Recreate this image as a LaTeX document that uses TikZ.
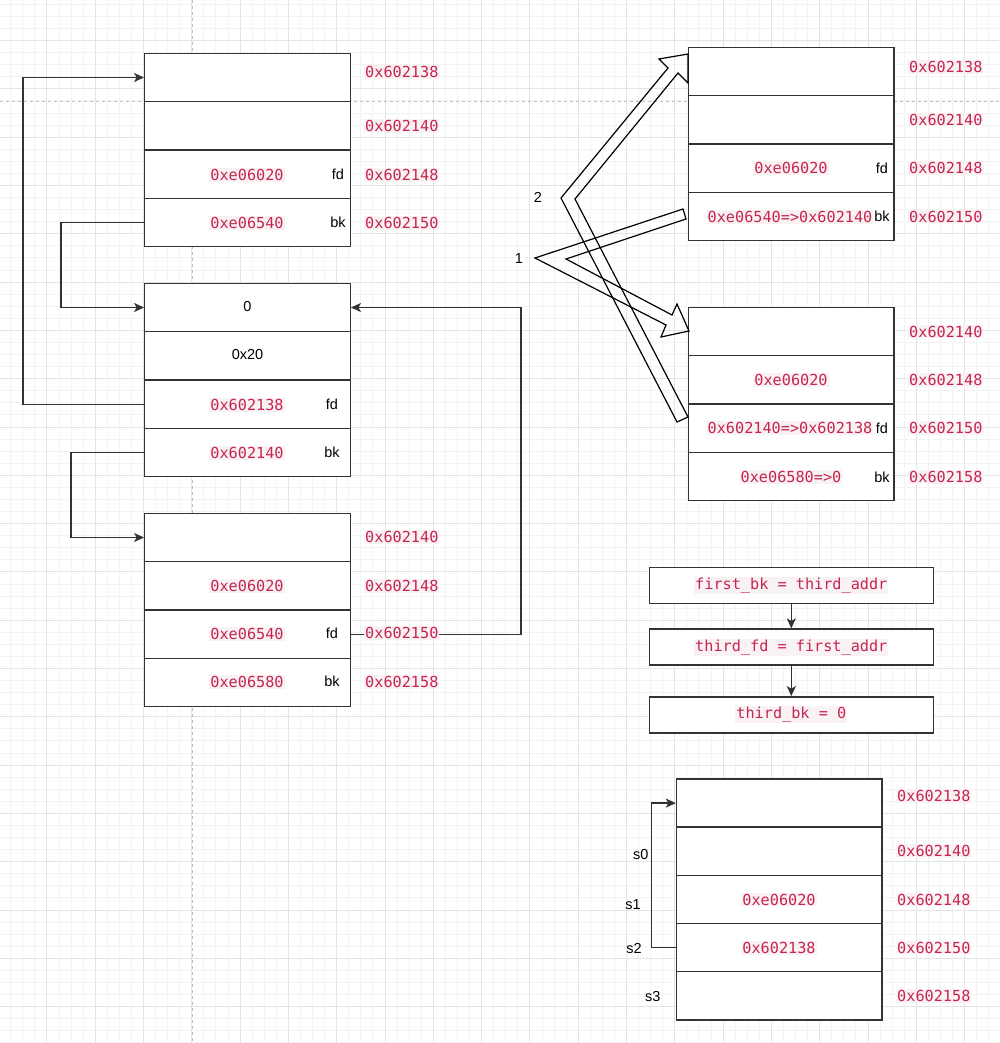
\documentclass[tikz,border=0pt]{standalone}
\usepackage{fontspec}
\setmainfont{Liberation Sans}
\newfontfamily\codefont{DejaVu Sans Mono}
\usepackage{xcolor}
\usetikzlibrary{arrows.meta,positioning}
\definecolor{codered}{HTML}{C7254E}
\definecolor{codebg}{HTML}{F9F2F4}
\definecolor{boxgray}{HTML}{333333}
\definecolor{minorgrid}{HTML}{F3F3F3}
\definecolor{majorgrid}{HTML}{E4E4E4}

\tikzset{
	cell/.style={draw=boxgray, line width=1.4pt, fill=white, minimum width=205.5pt, minimum height=48.3pt, inner sep=0pt},
	code/.style={text=codered, fill=codebg, inner sep=1pt, font=\codefont\fontsize{15.2}{17}\selectfont},
	lab/.style={inner sep=1pt, font=\fontsize{14.5}{16}\selectfont},
	link/.style={draw=boxgray, line width=1.4pt, -{Stealth[length=10pt,width=9pt,inset=2.5pt]}},
	fat/.style={draw=black, line width=1.2pt, line join=miter},
	stepbox/.style={draw=boxgray, line width=1.4pt, fill=white, minimum width=284pt, minimum height=36pt, inner sep=0pt}
}

\begin{document}
\begin{tikzpicture}[x=1pt, y=-1pt]
	\useasboundingbox (0,0) rectangle (999,1043);
	\fill[white] (0,0) rectangle (999,1043);
	% grid
	\foreach \i in {0,...,82}
		\draw[minorgrid, line width=0.8pt] ({10.6+12.075*\i},0) -- ({10.6+12.075*\i},1043);
	\foreach \i in {0,...,86}
		\draw[minorgrid, line width=0.8pt] (0,{4.3+12.075*\i}) -- (999,{4.3+12.075*\i});
	\foreach \i in {0,...,20}
		\draw[majorgrid, line width=0.8pt] ({46.8+48.3*\i},0) -- ({46.8+48.3*\i},1043);
	\foreach \i in {0,...,21}
		\draw[majorgrid, line width=0.8pt] (0,{40.5+48.3*\i}) -- (999,{40.5+48.3*\i});
	\draw[black!25, line width=0.8pt, dash pattern=on 3pt off 3pt] (192,0) -- (192,1043);
	\draw[black!25, line width=0.8pt, dash pattern=on 3pt off 3pt] (0,101) -- (999,101);

	% left column
	\foreach \n/\y in {1/77.5,2/125.8,3/174.2,4/222.5}
		\node[cell] (A\n) at (247.5,\y) {};
	\foreach \n/\y in {1/307.5,2/355.8,3/404.2,4/452.5}
		\node[cell] (B\n) at (247.5,\y) {};
	\foreach \n/\y in {1/537.5,2/585.8,3/634.2,4/682.5}
		\node[cell] (C\n) at (247.5,\y) {};

	% right column
	\foreach \n/\y in {1/71.5,2/119.8,3/168.2,4/216.5}
		\node[cell] (D\n) at (791.3,\y) {};
	\foreach \n/\y in {1/331.5,2/379.8,3/428.2,4/476.5}
		\node[cell] (E\n) at (791.3,\y) {};
	\foreach \n/\y in {1/803.1,2/851.3,3/899.5,4/947.7,5/995.9}
		\node[cell] (F\n) at (779.3,\y) {};

	% links
	\draw[link] (B3.west) -- ++(-121,0) |- (A1.west);
	\draw[link] (A4.west) -- ++(-83,0) |- (B1.west);
	\draw[link] (B4.west) -- ++(-73,0) |- (C1.west);
	\draw[link] (C3.east) -- ++(170,0) |- (B1.east);
	\draw[link] (F4.west) -- ++(-24.4,0) |- (F1.west);

	% cell values
	\node[code] (vA3) at (247,175) {0xe06020};
	\node[code] (vA4) at (247,223) {0xe06540};
	\node[lab] (vB1) at (247.5,307) {0};
	\node[lab] (vB2) at (247.5,355) {0x20};
	\node[code] (vB3) at (247,405) {0x602138};
	\node[code] (vB4) at (247,453) {0x602140};
	\node[code] (vC2) at (247,586) {0xe06020};
	\node[code] (vC3) at (247,634) {0xe06540};
	\node[code] (vC4) at (247,682) {0xe06580};
	\node[code] (vD3) at (791,168) {0xe06020};
	\node[code] (vD4) at (790,217) {0xe06540=>0x602140};
	\node[code] (vE2) at (791,380) {0xe06020};
	\node[code] (vE3) at (790,428) {0x602140=>0x602138};
	\node[code] (vE4) at (791,477) {0xe06580=>0};
	\node[code] (vF3) at (779,899.5) {0xe06020};
	\node[code] (vF4) at (779,948) {0x602138};

	\node[lab] (tA3) at (338,174) {fd};
	\node[lab] (tA4) at (338,222) {bk};
	\node[lab] (tB3) at (332,404) {fd};
	\node[lab] (tB4) at (332,452) {bk};
	\node[lab] (tC3) at (332,633) {fd};
	\node[lab] (tC4) at (332,681) {bk};
	\node[lab] (tD3) at (882,168) {fd};
	\node[lab] (tD4) at (882,216) {bk};
	\node[lab] (tE3) at (882,428) {fd};
	\node[lab] (tE4) at (882,477) {bk};

	% addresses
	\foreach \y/\t [count=\i] in {72/0x602138,126/0x602140,175/0x602148,223/0x602150}
		\node[code, anchor=west] (adA\i) at (364,\y) {\t};
	\foreach \y/\t [count=\i] in {537/0x602140,586/0x602148,633/0x602150,682/0x602158}
		\node[code, anchor=west] (adC\i) at (364,\y) {\t};
	\foreach \y/\t [count=\i] in {67/0x602138,119.5/0x602140,168/0x602148,216.5/0x602150}
		\node[code, anchor=west] (adD\i) at (908,\y) {\t};
	\foreach \y/\t [count=\i] in {331.5/0x602140,380/0x602148,428/0x602150,477/0x602158}
		\node[code, anchor=west] (adE\i) at (908,\y) {\t};
	\foreach \y/\t [count=\i] in {796/0x602138,851/0x602140,899.5/0x602148,947.5/0x602150,996/0x602158}
		\node[code, anchor=west] (adF\i) at (896,\y) {\t};

	% hollow arrows
	\draw[fat] (683,209) -- (535,258) -- (666,325) -- (661,337) -- (689,331)
		-- (677,304) -- (672,315) -- (566,259) -- (686,219) -- cycle;
	\draw[fat] (677,422) -- (561,198) -- (668,68) -- (659,59) -- (688,54)
		-- (688,83) -- (678,73) -- (575,199) -- (688,417) -- cycle;
	\node[lab] (n1) at (519,259) {1};
	\node[lab] (n2) at (538,197) {2};

	% steps
	\node[stepbox] (q1) at (791.3,585.3) {};
	\node[stepbox, below=24.4pt of q1] (q2) {};
	\node[stepbox, below=30.3pt of q2] (q3) {};
	\node[code] (s1t) at (q1) {first\_bk = third\_addr};
	\node[code] (s2t) at (q2) {third\_fd = first\_addr};
	\node[code] (s3t) at (q3) {third\_bk = 0};
	\draw[link] (q1) -- (q2);
	\draw[link] (q2) -- (q3);

	\node[lab] (s0) at (640.7,854) {s0};
	\node[lab] (s1) at (633,905) {s1};
	\node[lab] (s2) at (634,948) {s2};
	\node[lab] (s3) at (652.7,996) {s3};
\end{tikzpicture}
\end{document}
